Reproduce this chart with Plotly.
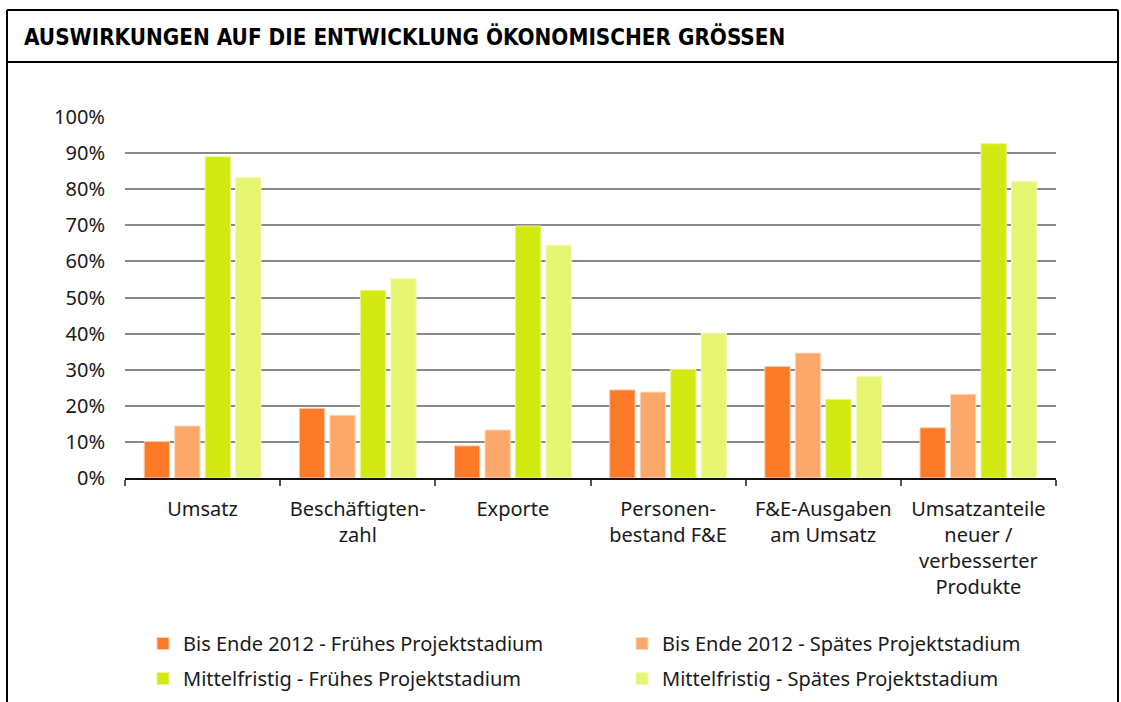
import plotly.graph_objects as go

categories = [
    "Umsatz",
    "Beschäftigten-<br>zahl",
    "Exporte",
    "Personen-<br>bestand F&E",
    "F&E-Ausgaben<br>am Umsatz",
    "Umsatzanteile<br>neuer /<br>verbesserter<br>Produkte",
]

series_names = [
    "Bis Ende 2012 - Frühes Projektstadium",
    "Bis Ende 2012 - Spätes Projektstadium",
    "Mittelfristig - Frühes Projektstadium",
    "Mittelfristig - Spätes Projektstadium",
]

bis2012_frueh = [10.1, 19.3, 8.9, 24.4, 30.9, 13.9]
bis2012_spaet = [14.4, 17.4, 13.3, 23.8, 34.6, 23.2]
mittel_frueh = [89.0, 52.0, 69.8, 30.1, 21.8, 92.6]
mittel_spaet = [83.3, 55.2, 64.5, 40.1, 28.1, 82.2]

colors = ["#FC7A28", "#FCA86A", "#D2E912", "#E6F572"]
edge_colors = ["#FDC9A6", "#FDD9BD", "#EAF590", "#F3FAB8"]
legend_ids = ["legend", "legend2", "legend", "legend2"]

W, H = 1121, 702
M_L, M_R, M_T, M_B = 125, 65, 117, 224
PW = W - M_L - M_R
PH = H - M_T - M_B


def px_x(px):
    return (px - M_L) / PW


def px_y(py):
    return (H - M_B - py) / PH


BODY_FONT = "Noto Sans, DejaVu Sans Condensed, sans-serif"
FS = 20

fig = go.Figure()
for i, (name, vals) in enumerate(
    zip(series_names, [bis2012_frueh, bis2012_spaet, mittel_frueh, mittel_spaet])
):
    fig.add_trace(
        go.Bar(
            x=categories,
            y=vals,
            name=name,
            legend=legend_ids[i],
            legendgroup=f"g{i}",
            marker=dict(color=colors[i], line=dict(color=edge_colors[i], width=1)),
            hoverinfo="skip",
        )
    )

legend_style = dict(
    xanchor="left",
    yanchor="top",
    orientation="v",
    tracegroupgap=6,
    font=dict(family=BODY_FONT, size=FS, color="#1a1a1a"),
    bgcolor="rgba(0,0,0,0)",
)

fig.update_layout(
    width=W,
    height=H,
    margin=dict(l=M_L, r=M_R, t=M_T, b=M_B, autoexpand=False),
    paper_bgcolor="white",
    plot_bgcolor="white",
    barmode="group",
    bargap=0.214,
    bargroupgap=0.17,
    font=dict(family=BODY_FONT, size=FS, color="#1a1a1a"),
    xaxis=dict(
        automargin=False,
        showgrid=False,
        showline=True,
        linecolor="#111111",
        linewidth=1.5,
        ticks="outside",
        tickson="boundaries",
        ticklen=6,
        tickcolor="#555555",
        tickwidth=1.5,
        ticklabelstandoff=12,
        tickfont=dict(family=BODY_FONT, size=FS, color="#1a1a1a"),
    ),
    yaxis=dict(
        automargin=False,
        range=[0, 100],
        dtick=10,
        tick0=0,
        ticksuffix="%",
        showgrid=True,
        gridcolor="#8a8a8a",
        gridwidth=1.5,
        zeroline=False,
        showline=False,
        ticks="",
        ticklabelstandoff=19,
        tickfont=dict(family=BODY_FONT, size=FS, color="#1a1a1a"),
    ),
    legend=dict(x=px_x(143), y=px_y(624), **legend_style),
    legend2=dict(x=px_x(622), y=px_y(624), **legend_style),
    showlegend=True,
)

# outer frame (open at the bottom) and title separator
frame_lines = [
    (7, 10, 7, 702),
    (7, 10, 1118, 10),
    (1118, 10, 1118, 702),
    (7, 62, 1118, 62),
]
for x0, y0, x1, y1 in frame_lines:
    fig.add_shape(
        type="line", xref="paper", yref="paper",
        x0=px_x(x0), x1=px_x(x1), y0=px_y(y0), y1=px_y(y1),
        line=dict(color="black", width=2), layer="above",
    )

fig.add_annotation(
    text="<b>AUSWIRKUNGEN AUF DIE ENTWICKLUNG ÖKONOMISCHER GRÖSSEN</b>",
    xref="paper", yref="paper",
    x=px_x(22), y=px_y(37),
    xanchor="left", yanchor="middle",
    showarrow=False,
    font=dict(family="Liberation Sans Narrow, DejaVu Sans Condensed, sans-serif", size=22.3, color="black"),
)

fig.write_html("out.html")
